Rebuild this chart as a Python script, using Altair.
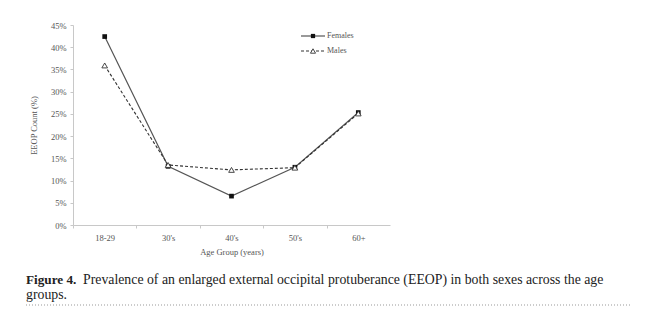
import altair as alt
import pandas as pd

age_groups = ["18-29", "30's", "40's", "50's", "60+"]
females = [42.4, 13.2, 6.5, 13.0, 25.3]
males = [35.9, 13.5, 12.4, 12.9, 25.1]
series = ["Females", "Males"]
y_ticks = [0, 5, 10, 15, 20, 25, 30, 35, 40, 45]

caption_bold = "Figure 4."
caption_line1 = "Prevalence of an enlarged external occipital protuberance (EEOP) in both sexes across the age"
caption_line2 = "groups."

rows = []
for i, g in enumerate(age_groups):
    rows.append({"age": g, "sex": "Females", "val": females[i] / 100})
    rows.append({"age": g, "sex": "Males", "val": males[i] / 100})
df = pd.DataFrame(rows)

W, H = 317, 200
STEP = W / len(age_groups)
SERIF = "Liberation Serif"
AX_FS = 8.5

x_enc = alt.X("age:N", sort=age_groups, title="Age Group (years)",
              scale=alt.Scale(paddingInner=0, paddingOuter=0),
              axis=alt.Axis(labelAngle=0, tickOffset=-STEP / 2, labelOffset=STEP / 2,
                            domainColor="#c8c8c8", tickColor="#c8c8c8", tickSize=3,
                            labelFont=SERIF, labelFontSize=AX_FS, labelColor="#555",
                            titleFont=SERIF, titleFontSize=AX_FS, titleColor="#555",
                            titleFontWeight="normal", labelPadding=5, titlePadding=6))
y_enc = alt.Y("val:Q", title="EEOP Count (%)",
              scale=alt.Scale(domain=[0, 0.45], nice=False),
              axis=alt.Axis(format="0%", values=[v / 100 for v in y_ticks], grid=False,
                            domainColor="#c8c8c8", tickColor="#c8c8c8", tickSize=3,
                            labelFont=SERIF, labelFontSize=AX_FS, labelColor="#555",
                            titleFont=SERIF, titleFontSize=AX_FS, titleColor="#555",
                            titleFontWeight="normal", labelPadding=4, titlePadding=12))

base = alt.Chart(df)

fem_line = base.transform_filter(alt.datum.sex == "Females").mark_line(
    color="#555", strokeWidth=1.2).encode(x=x_enc, y=y_enc)
male_line = base.transform_filter(alt.datum.sex == "Males").mark_line(
    color="#333", strokeWidth=1.1, strokeDash=[3, 2]).encode(x=x_enc, y=y_enc)
fem_pts = base.transform_filter(alt.datum.sex == "Females").mark_point(
    shape="square", filled=True, color="#111", size=22, opacity=1).encode(x=x_enc, y=y_enc)
male_pts = base.transform_filter(alt.datum.sex == "Males").mark_point(
    shape="triangle-up", filled=True, fill="white", stroke="#333", strokeWidth=0.9,
    size=32, opacity=1).encode(x=x_enc, y=y_enc)

# legend
leg_df = pd.DataFrame({"name": series})
lx0, lx1, ly0, ldy = 228, 252, 11, 15
leg_f = alt.Chart(leg_df).transform_filter(alt.datum.name == "Females")
leg_m = alt.Chart(leg_df).transform_filter(alt.datum.name == "Males")
leg = [
    leg_f.mark_rule(color="#555", strokeWidth=1.2).encode(
        x=alt.value(lx0), x2=alt.value(lx1), y=alt.value(ly0)),
    leg_m.mark_rule(color="#333", strokeWidth=1.1, strokeDash=[3, 2]).encode(
        x=alt.value(lx0), x2=alt.value(lx1), y=alt.value(ly0 + ldy)),
    leg_f.mark_point(shape="square", filled=True, color="#111", size=18, opacity=1).encode(
        x=alt.value((lx0 + lx1) / 2), y=alt.value(ly0)),
    leg_m.mark_point(shape="triangle-up", filled=True, fill="white", stroke="#333",
                     strokeWidth=0.9, size=26, opacity=1).encode(
        x=alt.value((lx0 + lx1) / 2), y=alt.value(ly0 + ldy)),
    leg_f.mark_text(align="left", baseline="middle", font=SERIF, fontSize=8, color="#555").encode(
        x=alt.value(lx1 + 2), y=alt.value(ly0), text="name:N"),
    leg_m.mark_text(align="left", baseline="middle", font=SERIF, fontSize=8, color="#555").encode(
        x=alt.value(lx1 + 2), y=alt.value(ly0 + ldy), text="name:N"),
]

cap_df = pd.DataFrame({"b": [caption_bold], "l1": [caption_line1], "l2": [caption_line2]})
cap = alt.Chart(cap_df)
CAP_FS = 13.8
caption = [
    cap.mark_text(align="left", baseline="alphabetic", font=SERIF, fontSize=13.2,
                  fontWeight="bold", color="#222").encode(
        x=alt.value(-47), y=alt.value(259), text="b:N"),
    cap.mark_text(align="left", baseline="alphabetic", font=SERIF, fontSize=CAP_FS,
                  color="#222").encode(x=alt.value(10), y=alt.value(259), text="l1:N"),
    cap.mark_text(align="left", baseline="alphabetic", font=SERIF, fontSize=CAP_FS,
                  color="#222").encode(x=alt.value(-47), y=alt.value(274), text="l2:N"),
    cap.mark_rule(color="#999", strokeWidth=1, strokeDash=[1, 2]).encode(
        x=alt.value(-47), x2=alt.value(557), y=alt.value(280)),
]

chart = alt.layer(fem_line, male_line, fem_pts, male_pts, *leg, *caption).properties(
    width=W, height=H,
    autosize=alt.AutoSizeParams(type="none"),
    padding={"left": 73, "top": 25, "right": 650 - 73 - W, "bottom": 326 - 25 - H},
    background="white",
).configure_view(stroke=None)

chart.save("out.html", embed_options={"renderer": "svg", "actions": False})
